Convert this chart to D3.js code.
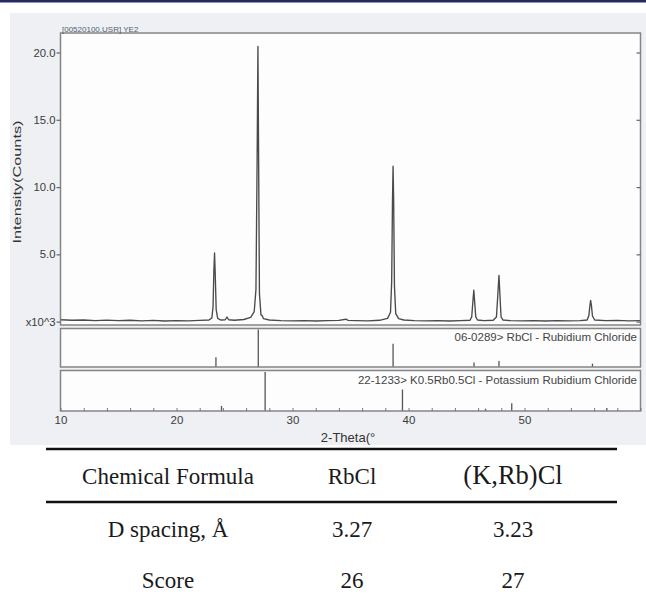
<!DOCTYPE html>
<html>
<head>
<meta charset="utf-8">
<script src="https://cdn.jsdelivr.net/npm/d3@7/dist/d3.min.js"></script>
<style>
  body { margin: 0; background: #fff; }
  svg { display: block; }
  .serif { font-family: "Liberation Serif", "Tinos", "Times New Roman", "DejaVu Serif", serif; }
</style>
</head>
<body>
<svg id="chart" width="646" height="601"></svg>
<script>
var pattern = [
  [10.0, 0.14], [11.0, 0.10], [12.0, 0.12], [13.0, 0.08], [14.0, 0.11], [15.0, 0.07],
  [16.0, 0.10], [17.0, 0.06], [18.0, 0.09], [19.0, 0.05], [20.0, 0.08], [21.0, 0.06],
  [22.0, 0.09], [22.8, 0.12], [23.05, 0.28], [23.15, 1.1], [23.22, 3.7], [23.28, 5.1],
  [23.34, 3.5], [23.42, 0.9], [23.55, 0.24], [23.8, 0.12], [24.2, 0.14], [24.35, 0.34],
  [24.5, 0.14], [25.0, 0.10], [25.8, 0.16], [26.4, 0.32], [26.7, 0.75], [26.85, 2.4],
  [26.95, 12.0], [27.02, 20.45], [27.08, 12.0], [27.15, 2.1], [27.28, 0.5], [27.38, 0.45],
  [27.5, 0.22], [28.0, 0.12], [29.0, 0.08], [30.0, 0.06], [31.0, 0.08], [32.0, 0.05],
  [33.0, 0.07], [34.0, 0.09], [34.6, 0.18], [34.8, 0.09], [35.5, 0.07], [36.5, 0.06],
  [37.5, 0.10], [38.2, 0.24], [38.45, 0.7], [38.55, 3.0], [38.62, 9.0], [38.67, 11.55],
  [38.72, 9.0], [38.79, 2.6], [38.9, 0.6], [39.15, 0.22], [39.6, 0.12], [40.5, 0.08],
  [41.5, 0.06], [42.5, 0.08], [43.5, 0.05], [44.5, 0.07], [45.3, 0.1], [45.45, 0.35],
  [45.55, 1.5], [45.63, 2.33], [45.7, 1.5], [45.8, 0.35], [45.95, 0.12], [46.5, 0.07],
  [47.3, 0.1], [47.58, 0.35], [47.7, 2.0], [47.8, 3.44], [47.88, 2.0], [47.98, 0.35],
  [48.15, 0.12], [48.8, 0.07], [49.8, 0.06], [50.8, 0.08], [51.8, 0.05], [52.8, 0.07],
  [53.8, 0.06], [54.8, 0.08], [55.4, 0.12], [55.55, 0.45], [55.64, 1.2], [55.7, 1.58],
  [55.77, 1.2], [55.86, 0.42], [56.05, 0.12], [57.0, 0.07], [58.0, 0.09], [59.0, 0.06],
  [60.0, 0.08]
];

// reference sticks: [2-theta (deg), relative intensity %]
var rbclRefs = [[23.4, 26], [27.05, 100], [38.67, 62], [45.65, 12], [47.8, 16], [55.86, 9]];
var krbclRefs = [[23.88, 13], [27.64, 100], [39.48, 55], [46.64, 6], [48.9, 20], [57.1, 8]];
var phaseLabels = [
  "06-0289> RbCl - Rubidium Chloride",
  "22-1233> K0.5Rb0.5Cl - Potassium Rubidium Chloride"
];

var yTicks = [0, 5, 10, 15, 20];
var yTickLabels = ["x10^3", "5.0", "10.0", "15.0", "20.0"];
var xTicks = [10, 20, 30, 40, 50];
var fileTitle = "[00520100.USR] YE2";
var yTitle = "Intensity(Counts)";
var xTitle = "2-Theta(\u00b0";

var tableHeader = ["Chemical Formula", "RbCl", "(K,Rb)Cl"];
var tableRows = [
  ["D spacing, \u00c5", "3.27", "3.23"],
  ["Score", "26", "27"]
];

var svg = d3.select("#chart");
var sans = "'Liberation Sans', Arial, sans-serif";

var left = 60.5, right = 640.5;
var mainTop = 33, mainBot = 325;
var p2Top = 328.5, p2Bot = 367;
var p3Top = 370.5, p3Bot = 411;

var x = d3.scaleLinear().domain([10, 60]).range([left, right]);
var y = d3.scaleLinear().domain([-0.25, 21.45]).range([mainBot, mainTop]);
var y2 = d3.scaleLinear().domain([0, 100]).range([p2Bot, p2Top + 1]);
var y3 = d3.scaleLinear().domain([0, 100]).range([p3Bot, p3Top + 1.5]);

// backgrounds
svg.append("rect").attr("x", 0).attr("y", 0).attr("width", 646).attr("height", 601).attr("fill", "#fff");
svg.append("rect").attr("x", 10).attr("y", 13).attr("width", 636).attr("height", 432).attr("fill", "#eef0f3");
svg.append("rect").attr("x", 0).attr("y", 0).attr("width", 646).attr("height", 2.5).attr("fill", "#262a60");

// panels
var panels = [[mainTop, mainBot], [p2Top, p2Bot], [p3Top, p3Bot]];
svg.selectAll("rect.panel").data(panels).enter().append("rect")
  .attr("class", "panel")
  .attr("x", left).attr("y", d => d[0])
  .attr("width", right - left).attr("height", d => d[1] - d[0])
  .attr("fill", "#fdfdfe");

// scan line
svg.append("path")
  .datum(pattern)
  .attr("fill", "none")
  .attr("stroke", "#4a4a4a")
  .attr("stroke-width", 1.35)
  .attr("stroke-linejoin", "round")
  .attr("d", d3.line().x(d => x(d[0])).y(d => y(d[1])));

// reference sticks
function sticks(refs, ys, cls) {
  svg.selectAll("line." + cls).data(refs).enter().append("line")
    .attr("class", cls)
    .attr("x1", d => x(d[0])).attr("x2", d => x(d[0]))
    .attr("y1", ys(0)).attr("y2", d => ys(d[1]))
    .attr("stroke", "#555").attr("stroke-width", 1.3);
}
sticks(rbclRefs, y2, "rbcl");
sticks(krbclRefs, y3, "krbcl");

// frames
svg.selectAll("rect.frame").data(panels).enter().append("rect")
  .attr("class", "frame")
  .attr("x", left).attr("y", d => d[0])
  .attr("width", right - left).attr("height", d => d[1] - d[0])
  .attr("fill", "none").attr("stroke", "#858585").attr("stroke-width", 1.5);

// y axis, left
var yAxis = svg.append("g")
  .attr("transform", "translate(" + left + ",0)")
  .call(d3.axisLeft(y).tickValues(yTicks).tickSize(4).tickPadding(1)
    .tickFormat((d, i) => yTickLabels[i]));
yAxis.select(".domain").remove();
yAxis.selectAll("line").attr("stroke", "#666").attr("stroke-width", 1.2);
yAxis.selectAll("text").attr("fill", "#3c3c3c").style("font-family", sans).style("font-size", "11.3px");

// y ticks, right (inward)
var yAxisR = svg.append("g")
  .attr("transform", "translate(" + right + ",0)")
  .call(d3.axisLeft(y).tickValues(yTicks).tickSize(4).tickFormat(""));
yAxisR.select(".domain").remove();
yAxisR.selectAll("line").attr("stroke", "#666").attr("stroke-width", 1.2);

// x ticks, inward at bottom
var xMinor = svg.append("g")
  .attr("transform", "translate(0," + p3Bot + ")")
  .call(d3.axisTop(x).ticks(25).tickSize(3).tickFormat(""));
xMinor.select(".domain").remove();
xMinor.selectAll("line").attr("stroke", "#777").attr("stroke-width", 1);

var xAxis = svg.append("g")
  .attr("transform", "translate(0," + p3Bot + ")")
  .call(d3.axisBottom(x).tickValues(xTicks).tickSize(0).tickPadding(5).tickFormat(d3.format("d")));
xAxis.select(".domain").remove();
xAxis.selectAll("text").attr("fill", "#3c3c3c").style("font-family", sans).style("font-size", "11.5px");

// titles
svg.append("text")
  .attr("x", 62).attr("y", 31.5)
  .attr("fill", "#4f5f70")
  .style("font-family", sans).style("font-size", "8px")
  .text(fileTitle);

svg.append("text")
  .attr("transform", "translate(21,182) rotate(-90)")
  .attr("text-anchor", "middle")
  .attr("textLength", 123).attr("lengthAdjust", "spacingAndGlyphs")
  .attr("fill", "#333")
  .style("font-family", sans).style("font-size", "11px")
  .text(yTitle);

svg.append("text")
  .attr("x", 348).attr("y", 441.7)
  .attr("text-anchor", "middle")
  .attr("fill", "#333")
  .style("font-family", sans).style("font-size", "13px")
  .text(xTitle);

svg.selectAll("text.phase").data(phaseLabels).enter().append("text")
  .attr("class", "phase")
  .attr("x", 637)
  .attr("y", (d, i) => i === 0 ? 340.8 : 384)
  .attr("text-anchor", "end")
  .attr("fill", "#444")
  .style("font-family", sans).style("font-size", "11.5px")
  .text(d => d);

// table
var colX = d3.scaleOrdinal().domain([0, 1, 2]).range([168, 352, 513]);
var rowY = [484, 537, 588];

svg.selectAll("line.rule").data([449, 502]).enter().append("line")
  .attr("class", "rule")
  .attr("x1", 46).attr("x2", 617)
  .attr("y1", d => d).attr("y2", d => d)
  .attr("stroke", "#111").attr("stroke-width", 2.6);

var rows = [tableHeader].concat(tableRows);
var rowG = svg.selectAll("g.row").data(rows).enter().append("g")
  .attr("class", "row")
  .attr("transform", (d, i) => "translate(0," + rowY[i] + ")");
rowG.selectAll("text").data(d => d).enter().append("text")
  .attr("class", "serif")
  .attr("x", (d, i) => colX(i))
  .attr("text-anchor", "middle")
  .attr("fill", "#1a1a1a")
  .attr("font-size", d => d === "(K,Rb)Cl" ? 26.5 : 23)
  .text(d => d);
</script>
</body>
</html>
